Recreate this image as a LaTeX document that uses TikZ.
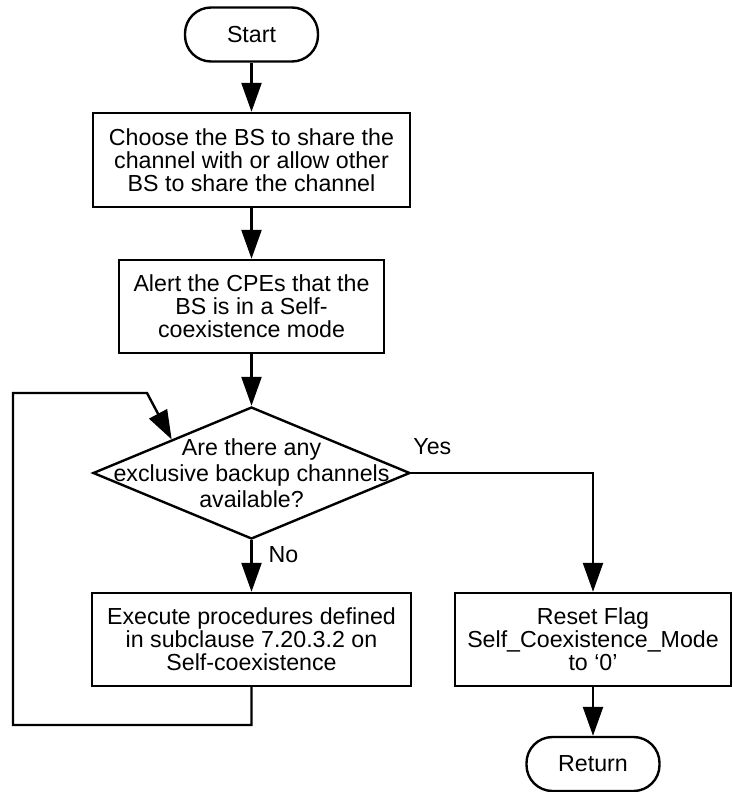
\documentclass[tikz,border=0pt]{standalone}
\usepackage{fontspec}
\setmainfont{Liberation Sans}
\usepackage{tikz}
\usetikzlibrary{shapes, arrows.meta, positioning}

\begin{document}
\begin{tikzpicture}[
    x=1pt, y=-1pt,
    line width=2.4pt,
    every node/.style={font=\fontsize{23.2}{23}\selectfont},
    >={Triangle[length=29pt, width=20pt]},
    procbox/.style={draw, rectangle, align=center, inner sep=0pt, minimum height=93pt},
    terminal/.style={draw, rectangle, rounded corners=26pt, minimum width=133pt, minimum height=54pt, inner sep=0pt},
    decision/.style={draw, diamond, minimum width=317pt, minimum height=132pt, inner sep=0pt},
]
\useasboundingbox (0,0) rectangle (732,792);

% =========================================================
% 1. Main column
% =========================================================
\node[terminal] (START) at (251.5,34.5) {Start};

\node[procbox, minimum width=317pt, minimum height=94pt] (CHOOSE) at (251.5,160)
    {Choose the BS to share the\\channel with or allow other\\BS to share the channel};

\node[procbox, minimum width=265pt] (ALERT) at (251.5,306.5)
    {Alert the CPEs that the\\BS is in a Self-\\coexistence mode};

% Decision: the text runs up to the edges, so it sits in its own node
\node[decision] (DEC) at (251.5,473) {};
\node[align=center, font=\fontsize{23.2}{26}\selectfont] (DECtxt) at (DEC)
    {Are there any\\exclusive backup channels\\available?};

\node[procbox, minimum width=319pt] (EXEC) at (251.5,639.5)
    {Execute procedures defined\\in subclause 7.20.3.2 on\\Self-coexistence};

% =========================================================
% 2. Yes branch
% =========================================================
\node[procbox, minimum width=276pt] (RESET) at (593,639.5)
    {Reset Flag\\Self\_Coexistence\_Mode\\to `0'};
\node[terminal] (RET) at (593,764) {Return};

% Wires
\draw[->] (START) -- (CHOOSE);
\draw[->] (CHOOSE) -- (ALERT);
\draw[->] (ALERT) -- (DEC);

% Yes -> reset flag
\draw[->] (DEC.east) -| (RESET.north);
\node[anchor=west, inner sep=1pt] (YES) at ([yshift=26pt]DEC.east) {Yes};

% No -> procedures
\draw[->] (DEC.south) -- (EXEC.north);
\node[anchor=west, inner sep=1pt] (NO) at ([xshift=15pt,yshift=-14pt]DEC.south) {No};

\draw[->] (RESET) -- (RET);

% Loop back to the decision
\coordinate (loopB) at (13,725);
\coordinate (loopK) at (147,393);
\draw[->] (EXEC.south) |- (loopB) |- (loopK) -- (DEC.north west);

\end{tikzpicture}
\end{document}
